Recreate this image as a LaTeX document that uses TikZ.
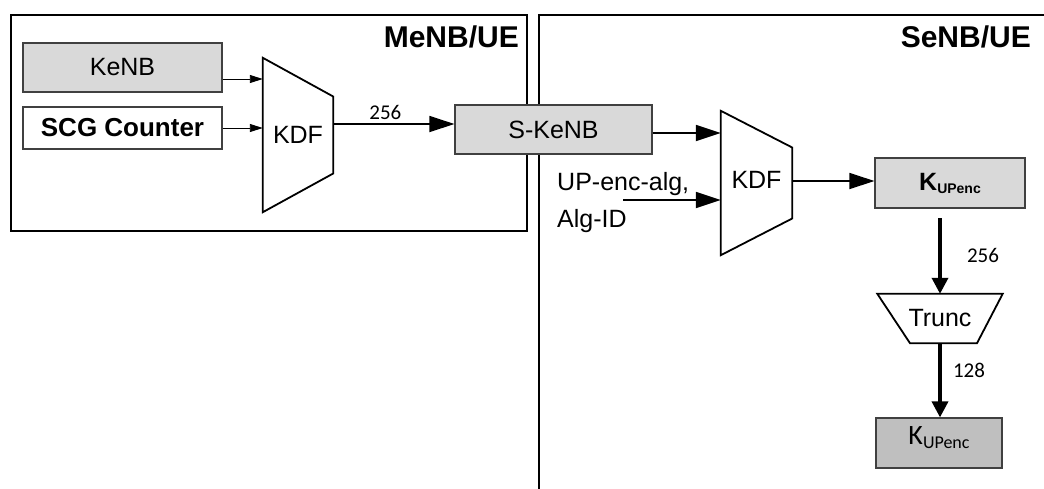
\documentclass[tikz,border=0pt]{standalone}
\usepackage{fontspec}
\setmainfont{Liberation Sans}
\newfontfamily\numfont{Carlito}
\usepackage{xcolor}
\usetikzlibrary{arrows.meta, positioning, calc}
\definecolor{keygray}{RGB}{217,217,217}
\definecolor{outgray}{RGB}{191,191,191}
\newcommand{\fsz}[1]{\fontsize{#1}{#1}\selectfont}

\begin{document}
\begin{tikzpicture}[x=1pt, y=-1pt,
  box/.style={draw=black!75, line width=1.2pt, inner sep=0pt, font=\fsz{25}},
  gbox/.style={box, fill=keygray},
  wbox/.style={box, fill=white},
  trap/.style={draw=black, line width=1.8pt, line join=miter},
  area/.style={draw=black, line width=1.5pt},
  sarrow/.style={draw, line width=0.9pt, -{Triangle[length=13pt,width=8pt]}},
  harrow/.style={draw, line width=1.8pt, -{Triangle[length=25pt,width=16pt]}},
  varrow/.style={draw, line width=3.5pt, -{Triangle[length=16pt,width=16pt]}},
  bits/.style={font=\numfont\fsz{21}},
  title/.style={font=\bfseries\fsz{30}, anchor=east, inner sep=0pt},
]
\useasboundingbox (0,0) rectangle (1044,488);
\draw[area] (11,15) rectangle (527,231);
\draw[area] (1050,15) -- (539,15) -- (539,495);
\node[title] (meTitle) at (519,37) {MeNB/UE};
\node[title] (seTitle) at (1031,37) {SeNB/UE};

\node[gbox, minimum width=199, minimum height=49] (keNB) at (122.5,67.5) {KeNB};
\node[wbox, minimum width=199, minimum height=42, font=\bfseries\fsz{26}] (scg) at (122.5,128) {SCG Counter};
\node[minimum width=70, minimum height=154, inner sep=0pt, font=\fsz{25}] (kdfA) at (298,135) {KDF};
\draw[trap] (kdfA.north west) -- ($(kdfA.east)+(0,-38.5)$) -- ($(kdfA.east)+(0,38.5)$) -- (kdfA.south west) -- cycle;
\node[gbox, minimum width=197, minimum height=49] (sKeNB) at (553.5,129.5) {S-KeNB};
\node[minimum width=71, minimum height=144, inner sep=0pt, font=\fsz{25}, text height=18pt, text depth=8pt] (kdfB) at (756.5,183) {KDF};
\draw[trap] (kdfB.north west) -- ($(kdfB.east)+(0,-35.5)$) -- ($(kdfB.east)+(0,35.5)$) -- (kdfB.south west) -- cycle;
\node[anchor=west, align=left, inner sep=0pt, font=\fontsize{25}{37}\selectfont] (upIn) at (557,202.5) {UP-enc-alg,\\Alg-ID};
\node[gbox, minimum width=150, minimum height=50] (kUp) at (950,183) {\bfseries K\raisebox{-3pt}{\fsz{14}UPenc}};
\node[minimum width=125, minimum height=49, inner sep=0pt, font=\fsz{25}] (trunc) at (940,318.5) {Trunc};
\draw[trap] (trunc.north west) -- (trunc.north east) -- ($(trunc.south)+(37,0)$) -- ($(trunc.south)+(-30,0)$) -- cycle;
\node[box, fill=outgray, minimum width=126, minimum height=50, text height=20pt, text depth=18pt] (kOut) at (939,443) {\numfont\fsz{28}K\raisebox{-4pt}{\fsz{18}UPenc}};

\coordinate (keIn) at ([yshift=-11.5pt]keNB.east);
\draw[sarrow] (keIn) -- (keIn -| kdfA.west);
\draw[sarrow] (scg.east) -- (scg.east -| kdfA.west);
\coordinate (sIn) at ([yshift=5.5pt]sKeNB.west);
\draw[harrow] (sIn -| kdfA.east) -- node[bits, above, pos=0.43] (bitsA) {256} (sIn);
\coordinate (sOut) at ([yshift=-3.5pt]sKeNB.east);
\draw[harrow] (sOut) -- (sOut -| kdfB.west);
\coordinate (upA) at (623,200);
\draw[harrow] (upA) -- (upA -| kdfB.west);
\coordinate (kIn) at ([yshift=2pt]kUp.west);
\draw[harrow] (kIn -| kdfB.east) -- (kIn);
\coordinate (kDown) at (940,218);
\draw[varrow] (kDown) -- node[bits, right=22pt] (bitsB) {256} (kDown |- trunc.north);
\draw[varrow] (trunc.south) -- node[bits, right=8pt, pos=0.36] (bitsC) {128} (trunc.south |- kOut.north);
\end{tikzpicture}
\end{document}
